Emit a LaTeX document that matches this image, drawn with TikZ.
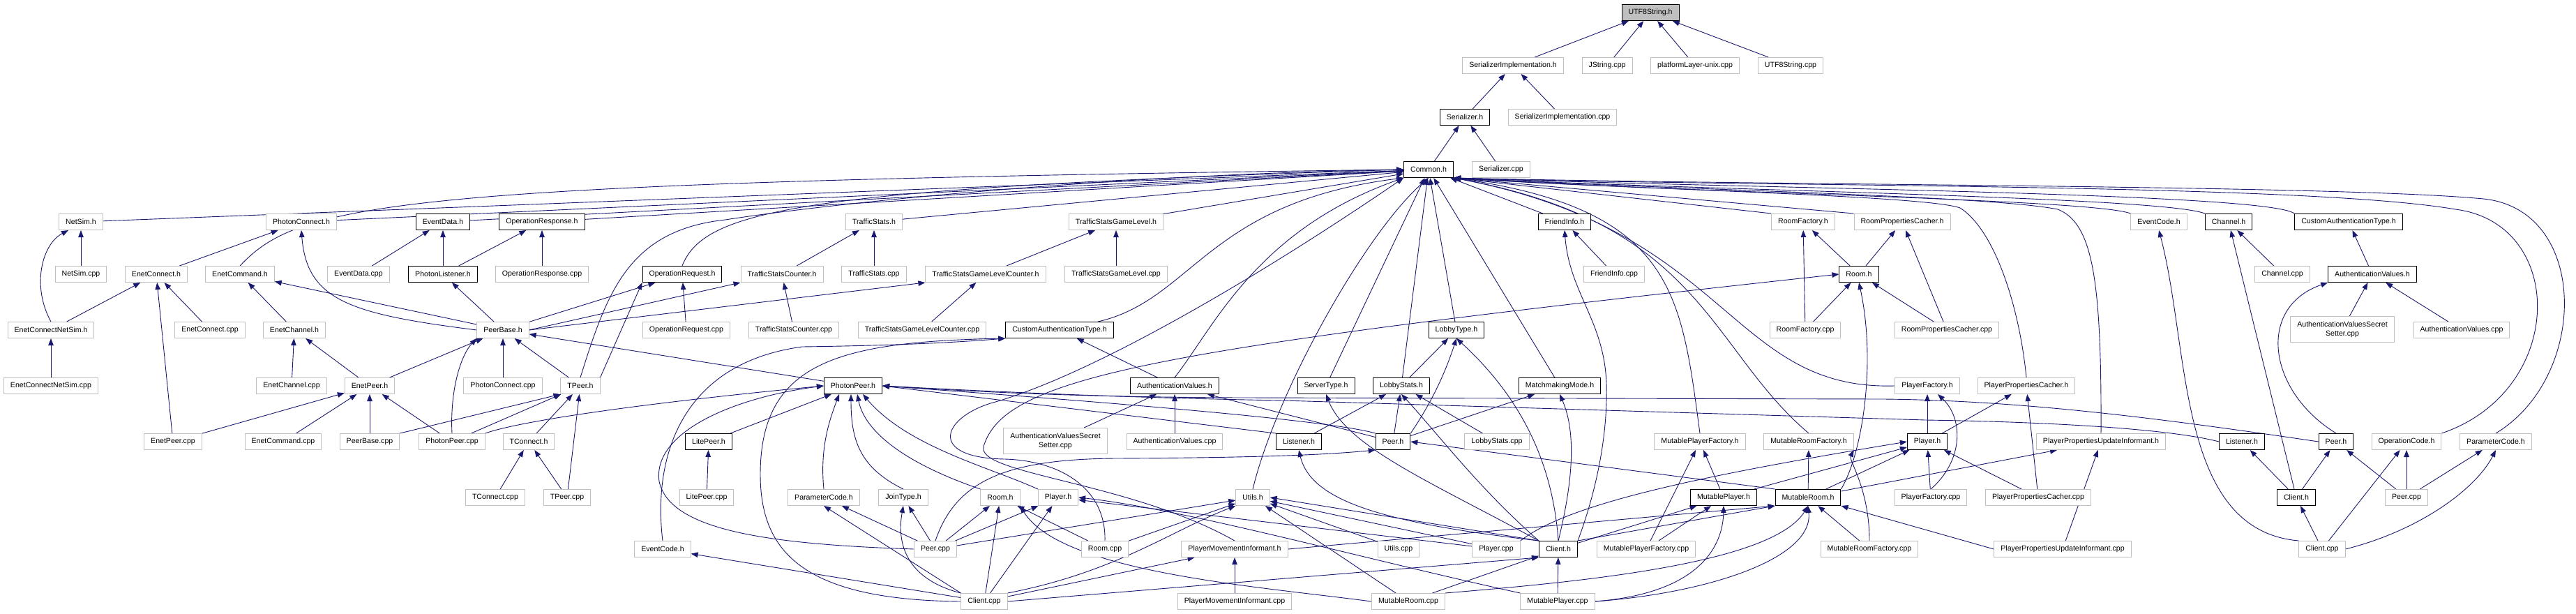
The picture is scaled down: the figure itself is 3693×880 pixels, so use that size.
\documentclass[tikz,border=0pt]{standalone}
\usepackage{fontspec}
\setmainfont{Liberation Sans}
\usetikzlibrary{arrows.meta}
\definecolor{edgeblue}{HTML}{191970}
\definecolor{boxgray}{HTML}{BFBFBF}
\newcommand{\lbl}{\fontsize{10.6}{13}\selectfont}
\pgfdeclarelayer{edges}
\pgfsetlayers{edges,main}

\begin{document}
\begin{tikzpicture}[x=1pt,y=-1pt,>={Triangle[length=10pt,width=7.5pt]},
  fl/.style={draw=boxgray,line width=1pt,fill=white,minimum height=23pt,inner xsep=9.5pt,inner ysep=0pt,font=\lbl},
  dc/.style={fl,draw=black},
  two/.style={fl,align=center,minimum height=37pt},
  dep/.style={->,draw=edgeblue,line width=0.9pt}]
\useasboundingbox (0,0) rectangle (3693,880);

% rows 0-3
\node[dc,fill=boxgray] (utf8h) at (2366,18) {UTF8String.h};
\node[fl] (serimplh) at (2169,94) {SerializerImplementation.h};
\node[fl] (jstrcpp) at (2304,94) {JString.cpp};
\node[fl] (platcpp) at (2430,94) {platformLayer-unix.cpp};
\node[fl] (utf8cpp) at (2567,94) {UTF8String.cpp};
\node[dc] (serh) at (2100,168) {Serializer.h};
\node[fl] (serimplcpp) at (2240,168) {SerializerImplementation.cpp};
\node[dc] (commonh) at (2048,243) {Common.h};
\node[fl] (sercpp) at (2152,243) {Serializer.cpp};
% row 4
\node[fl] (netsimh) at (116,318) {NetSim.h};
\node[fl] (pconnh) at (432,318) {PhotonConnect.h};
\node[dc] (evdatah) at (635,318) {EventData.h};
\node[dc] (opresph) at (777,318) {OperationResponse.h};
\node[fl] (tsh) at (1253,318) {TrafficStats.h};
\node[fl] (tsglh) at (1600,318) {TrafficStatsGameLevel.h};
\node[dc] (friendh) at (2243,318) {FriendInfo.h};
\node[fl] (roomfh) at (2585,318) {RoomFactory.h};
\node[fl] (roompch) at (2727,318) {RoomPropertiesCacher.h};
\node[fl] (evcodeh) at (3095,318) {EventCode.h};
\node[dc] (channelh) at (3195,318) {Channel.h};
\node[dc] (cauthh) at (3367,318) {CustomAuthenticationType.h};
% row 5
\node[fl] (netsimcpp) at (116,393) {NetSim.cpp};
\node[fl] (econnh) at (224,393) {EnetConnect.h};
\node[fl] (ecmdh) at (344,393) {EnetCommand.h};
\node[fl] (evdatacpp) at (514,393) {EventData.cpp};
\node[dc] (plistenh) at (635,393) {PhotonListener.h};
\node[fl] (oprespcpp) at (777,393) {OperationResponse.cpp};
\node[dc] (opreqh) at (978,393) {OperationRequest.h};
\node[fl] (tsch) at (1121,393) {TrafficStatsCounter.h};
\node[fl] (tscpp) at (1253,393) {TrafficStats.cpp};
\node[fl] (tsglch) at (1413,393) {TrafficStatsGameLevelCounter.h};
\node[fl] (tsglcpp) at (1600,393) {TrafficStatsGameLevel.cpp};
\node[fl] (friendcpp) at (2314,393) {FriendInfo.cpp};
\node[dc] (roomah) at (2665,393) {Room.h};
\node[fl] (channelcpp) at (3272,393) {Channel.cpp};
\node[dc] (authvbh) at (3401,393) {AuthenticationValues.h};
% row 6
\node[fl] (ecnsh) at (73,473) {EnetConnectNetSim.h};
\node[fl] (econncpp) at (301,473) {EnetConnect.cpp};
\node[fl] (echanh) at (422,473) {EnetChannel.h};
\node[fl] (peerbaseh) at (721,473) {PeerBase.h};
\node[fl] (opreqcpp) at (984,473) {OperationRequest.cpp};
\node[fl] (tsccpp) at (1138,473) {TrafficStatsCounter.cpp};
\node[fl] (tsglccpp) at (1322,473) {TrafficStatsGameLevelCounter.cpp};
\node[dc] (cautah) at (1519,473) {CustomAuthenticationType.h};
\node[dc] (lobbytypeh) at (2088,473) {LobbyType.h};
\node[fl] (roomfcpp) at (2588,473) {RoomFactory.cpp};
\node[fl] (roompccpp) at (2791,473) {RoomPropertiesCacher.cpp};
\node[two] (avsscppb) at (3358,472) {AuthenticationValuesSecret\\Setter.cpp};
\node[fl] (authvcppb) at (3529,473) {AuthenticationValues.cpp};
% row 7
\node[fl] (ecnscpp) at (73,553) {EnetConnectNetSim.cpp};
\node[fl] (echancpp) at (418,553) {EnetChannel.cpp};
\node[fl] (epeerh) at (530,553) {EnetPeer.h};
\node[fl] (pconncpp) at (721,553) {PhotonConnect.cpp};
\node[fl] (tpeerh) at (832,553) {TPeer.h};
\node[dc] (ppeerh) at (1223,553) {PhotonPeer.h};
\node[dc] (authvah) at (1684,553) {AuthenticationValues.h};
\node[dc] (servtypeh) at (1901,553) {ServerType.h};
\node[dc] (lobbystatsh) at (2009,553) {LobbyStats.h};
\node[dc] (mmodeh) at (2236,553) {MatchmakingMode.h};
\node[fl] (playerfh) at (2763,553) {PlayerFactory.h};
\node[fl] (playerpch) at (2905,553) {PlayerPropertiesCacher.h};
% row 8
\node[fl] (epeercpp) at (248,633) {EnetPeer.cpp};
\node[fl] (ecmdcpp) at (406,633) {EnetCommand.cpp};
\node[fl] (peerbasecpp) at (530,633) {PeerBase.cpp};
\node[fl] (ppeercpp) at (648,633) {PhotonPeer.cpp};
\node[fl] (tconnh) at (758,633) {TConnect.h};
\node[dc] (litepeerh) at (1016,633) {LitePeer.h};
\node[two] (avsscppa) at (1513,632) {AuthenticationValuesSecret\\Setter.cpp};
\node[fl] (authvcppa) at (1684,633) {AuthenticationValues.cpp};
\node[dc] (listenerah) at (1862,633) {Listener.h};
\node[dc] (peerah) at (1997,633) {Peer.h};
\node[fl] (lobbystatscpp) at (2146,633) {LobbyStats.cpp};
\node[fl] (mplayerfh) at (2437,633) {MutablePlayerFactory.h};
\node[fl] (mroomfh) at (2593,633) {MutableRoomFactory.h};
\node[dc] (playerah) at (2763,633) {Player.h};
\node[fl] (ppuih) at (3012,633) {PlayerPropertiesUpdateInformant.h};
\node[dc] (listenerbh) at (3214,633) {Listener.h};
\node[dc] (peerbh) at (3349,633) {Peer.h};
\node[fl] (opcodeh) at (3450,633) {OperationCode.h};
\node[fl] (paramcodebh) at (3578,633) {ParameterCode.h};
% row 9
\node[fl] (tconncpp) at (710,713) {TConnect.cpp};
\node[fl] (tpeercpp) at (813,713) {TPeer.cpp};
\node[fl] (litepeercpp) at (1013,713) {LitePeer.cpp};
\node[fl] (paramcodeah) at (1181,713) {ParameterCode.h};
\node[fl] (jointypeh) at (1295,713) {JoinType.h};
\node[fl] (roombh) at (1434,713) {Room.h};
\node[fl] (playerbh) at (1517,713) {Player.h};
\node[fl] (utilsh) at (1796,713) {Utils.h};
\node[dc] (mplayerh) at (2471,713) {MutablePlayer.h};
\node[dc] (mroomh) at (2592,713) {MutableRoom.h};
\node[fl] (playerfcpp) at (2768,713) {PlayerFactory.cpp};
\node[fl] (playerpccpp) at (2922,713) {PlayerPropertiesCacher.cpp};
\node[dc] (clientbh) at (3292,713) {Client.h};
\node[fl] (peerbcpp) at (3450,713) {Peer.cpp};
% row 10
\node[fl] (evcodebh) at (950,787) {EventCode.h};
\node[fl] (peeracpp) at (1341,787) {Peer.cpp};
\node[fl] (roomcpp) at (1584,787) {Room.cpp};
\node[fl] (pmih) at (1770,787) {PlayerMovementInformant.h};
\node[fl] (utilscpp) at (2005,787) {Utils.cpp};
\node[fl] (playercpp) at (2145,787) {Player.cpp};
\node[dc] (clientah) at (2234,787) {Client.h};
\node[fl] (mplayerfcpp) at (2360,787) {MutablePlayerFactory.cpp};
\node[fl] (mroomfcpp) at (2680,787) {MutableRoomFactory.cpp};
\node[fl] (ppuicpp) at (2957,787) {PlayerPropertiesUpdateInformant.cpp};
\node[fl] (clientbcpp) at (3329,787) {Client.cpp};
% row 11
\node[fl] (clientacpp) at (1411,862) {Client.cpp};
\node[fl] (pmicpp) at (1770,862) {PlayerMovementInformant.cpp};
\node[fl] (mroomcpp) at (2019,862) {MutableRoom.cpp};
\node[fl] (mplayercpp) at (2233,862) {MutablePlayer.cpp};

\begin{pgfonlayer}{edges}
% top of the tree
\draw[dep] (serimplh) -- (utf8h);
\draw[dep] (jstrcpp) -- (utf8h);
\draw[dep] (platcpp) -- (utf8h);
\draw[dep] (utf8cpp) -- (utf8h);
\draw[dep] (serh) -- (serimplh);
\draw[dep] (serimplcpp) -- (serimplh);
\draw[dep] (commonh) -- (serh);
\draw[dep] (sercpp) -- (serh);
% into Common.h from the left
\draw[dep] (netsimh) -- (commonh);
\draw[dep] (pconnh) -- (commonh);
\draw[dep] (evdatah) -- (commonh);
\draw[dep] (opresph) -- (commonh);
\draw[dep] (tsh) -- (commonh);
\draw[dep] (tsglh) -- (commonh);
\draw[dep] (ecmdh.north) .. controls (430,290) and (560,262) .. (commonh.west);
\draw[dep] (opreqh.north) .. controls (1010,300) and (1150,270) .. (commonh.west);
\draw[dep] (tpeerh.north) .. controls (870,420) and (900,330) .. (1040,315) .. controls (1200,290) and (1600,250) .. (commonh.west);
\draw[dep] ([xshift=55pt]cautah.north) .. controls (1710,430) and (1730,290) .. (commonh.south west);
\draw[dep] (authvah.north) .. controls (1740,470) and (1800,330) .. (commonh.south west);
\draw[dep] (roomcpp.north) .. controls (1586,700) and (1520,660) .. (1440,658) .. controls (1330,656) and (1350,600) .. (1420,578) .. controls (1560,540) and (1800,400) .. (commonh.south west);
\draw[dep] (utilsh.north) .. controls (1830,560) and (1960,330) .. (commonh.south);
\draw[dep] (servtypeh) -- (commonh);
\draw[dep] (lobbystatsh) -- (commonh);
\draw[dep] (lobbytypeh) -- (commonh);
\draw[dep] (mmodeh) -- (commonh);
\draw[dep] (friendh) -- (commonh);
% into Common.h from the right, under Serializer.cpp
\draw[dep] (mplayerfh.north) .. controls (2410,420) and (2400,300) .. (commonh.south east);
\draw[dep] (mroomfh.north) .. controls (2450,500) and (2440,320) .. (commonh.south east);
\draw[dep] (playerfh.west) .. controls (2480,560) and (2480,330) .. (commonh.south east);
\draw[dep] (roomfh.north west) -- (commonh.south east);
\draw[dep] (roompch.north west) -- (commonh.south east);
\draw[dep] (playerpch.north) .. controls (2895,440) and (2860,330) .. (2810,298) .. controls (2760,280) and (2350,272) .. (commonh.south east);
\draw[dep] (ppuih.north) .. controls (3013,400) and (3000,320) .. (2950,300) .. controls (2850,280) and (2400,272) .. (commonh.south east);
\draw[dep] (evcodeh.north west) .. controls (3000,285) and (2400,276) .. (commonh.south east);
\draw[dep] (channelh.north west) .. controls (3100,282) and (2450,273) .. (commonh.south east);
\draw[dep] (cauthh.north west) .. controls (3250,276) and (2500,270) .. (commonh.south east);
\draw[dep] (opcodeh.north east) .. controls (3680,560) and (3680,320) .. (3520,300) .. controls (3300,262) and (2500,268) .. (commonh.south east);
\draw[dep] (paramcodebh.north) .. controls (3712,540) and (3712,300) .. (3560,285) .. controls (3350,265) and (2550,266) .. (commonh.south east);
% Enet and PeerBase block
\draw[dep] (netsimcpp) -- (netsimh);
\draw[dep] (ecnsh.north) .. controls (45,410) and (60,350) .. ([xshift=-18pt]netsimh.south);
\draw[dep] (ecnscpp) -- (ecnsh);
\draw[dep] (ecnsh) -- (econnh);
\draw[dep] (econncpp) -- (econnh);
\draw[dep] (epeercpp) -- (econnh);
\draw[dep] (econnh) -- (pconnh);
\draw[dep] (echanh) -- (ecmdh);
\draw[dep] (echancpp) -- (echanh);
\draw[dep] (epeerh) -- (echanh);
\draw[dep] (epeerh) -- (peerbaseh);
\draw[dep] (epeercpp) -- (epeerh);
\draw[dep] (ecmdcpp) -- (epeerh);
\draw[dep] (peerbasecpp) -- (epeerh);
\draw[dep] (ppeercpp) -- (epeerh);
\draw[dep] (peerbasecpp.north east) -- (tpeerh.south west);
\draw[dep] (ppeercpp) -- (tpeerh);
\draw[dep] (tconnh) -- (tpeerh);
\draw[dep] (tpeercpp) -- (tpeerh);
\draw[dep] (tpeercpp) -- (tconnh);
\draw[dep] (tconncpp) -- (tconnh);
\draw[dep] (tpeerh) -- (peerbaseh);
\draw[dep] (tpeerh.north east) -- (opreqh.south west);
\draw[dep] (pconncpp) -- (peerbaseh);
\draw[dep] (ppeercpp.north) .. controls (645,560) and (660,510) .. (peerbaseh.south west);
\draw[dep] (peerbaseh.west) .. controls (500,450) and (440,430) .. (pconnh.south);
\draw[dep] (peerbaseh) -- (ecmdh);
\draw[dep] (peerbaseh) -- (plistenh);
\draw[dep] (peerbaseh) -- (opreqh);
\draw[dep] (peerbaseh.east) -- (tsch.south west);
\draw[dep] (peerbaseh.east) -- (tsglch.south west);
\draw[dep] (ppeerh) -- (peerbaseh);
\draw[dep] (evdatacpp) -- (evdatah);
\draw[dep] (plistenh) -- (evdatah);
\draw[dep] (plistenh) -- (opresph);
\draw[dep] (oprespcpp) -- (opresph);
\draw[dep] (opreqcpp) -- (opreqh);
\draw[dep] (tsch) -- (tsh);
\draw[dep] (tscpp) -- (tsh);
\draw[dep] (tsccpp) -- (tsch);
\draw[dep] (tsglch) -- (tsglh);
\draw[dep] (tsglcpp) -- (tsglh);
\draw[dep] (tsglccpp) -- (tsglch);
% authentication, left copy
\draw[dep] (authvah) -- (cautah);
\draw[dep] (avsscppa) -- (authvah);
\draw[dep] (authvcppa) -- (authvah);
\draw[dep] (evcodebh.north) .. controls (935,650) and (980,520) .. (1150,497) .. controls (1300,495) and (1380,490) .. (cautah.south west);
\draw[dep] (clientacpp.west) .. controls (1150,860) and (1090,790) .. (1090,680) .. controls (1090,520) and (1200,490) .. (cautah.south west);
% PhotonPeer.h
\draw[dep] (litepeerh) -- (ppeerh);
\draw[dep] (litepeercpp) -- (litepeerh);
\draw[dep] (ppeercpp.north east) .. controls (740,605) and (900,580) .. (ppeerh.west);
\draw[dep] (paramcodeah.north) .. controls (1175,640) and (1190,600) .. ([xshift=-20pt]ppeerh.south);
\draw[dep] (jointypeh.north) .. controls (1232,670) and (1220,630) .. ([xshift=-3pt]ppeerh.south);
\draw[dep] (roombh.north west) .. controls (1300,665) and (1240,620) .. ([xshift=6pt]ppeerh.south);
\draw[dep] (playerbh.north west) .. controls (1420,670) and (1300,640) .. ([xshift=14pt]ppeerh.south);
\draw[dep] (peeracpp.west) .. controls (1100,780) and (960,760) .. (945,690) .. controls (935,620) and (1050,570) .. (ppeerh.west);
\draw[dep] (peerah.north west) .. controls (1900,600) and (1500,570) .. (ppeerh.east);
\draw[dep] (listenerah.north west) -- (ppeerh.east);
\draw[dep] (peerbh.west) .. controls (3100,600) and (2900,574) .. (2700,572) -- (1780,570) .. controls (1500,569) and (1350,558) .. (ppeerh.east);
\draw[dep] (listenerbh.west) .. controls (3100,612) and (2900,604) .. (2760,602) -- (1840,574) .. controls (1600,570) and (1400,560) .. (ppeerh.east);
% Peer.h, Listener.h and the lobby headers
\draw[dep] (peerah) -- (authvah);
\draw[dep] (peerah) -- (lobbystatsh);
\draw[dep] (peerah.north east) .. controls (2050,580) and (2070,540) .. (lobbytypeh.south);
\draw[dep] (peerah) -- (mmodeh);
\draw[dep] (listenerah) -- (lobbystatsh);
\draw[dep] (lobbystatscpp) -- (lobbystatsh);
\draw[dep] (lobbystatsh) -- (lobbytypeh);
\draw[dep] (friendcpp) -- (friendh);
\draw[dep] (peeracpp.north) .. controls (1370,690) and (1440,658) .. (1600,657) .. controls (1800,656) and (1900,652) .. (peerah.south west);
\draw[dep] (mroomh.north west) -- (peerah.east);
% Client.h
\draw[dep] (clientah.north west) .. controls (2050,690) and (1930,640) .. (servtypeh.south);
\draw[dep] (clientah.north west) .. controls (2120,700) and (2060,620) .. (lobbystatsh.south);
\draw[dep] (clientah.north) .. controls (2225,650) and (2170,560) .. (lobbytypeh.south);
\draw[dep] (clientah.north) .. controls (2255,690) and (2260,620) .. (mmodeh.south);
\draw[dep] (clientah.north east) .. controls (2290,700) and (2305,620) .. (2303,550) .. controls (2300,460) and (2250,420) .. (friendh.south);
\draw[dep] (clientah.north west) .. controls (1990,750) and (1880,720) .. (listenerah.south);
\draw[dep] (clientah.north west) -- (utilsh.east);
\draw[dep] (clientah) -- (mplayerh);
\draw[dep] (clientah.north east) -- (mroomh.south west);
\draw[dep] (clientacpp.east) -- (clientah.south west);
\draw[dep] (mroomcpp) -- (clientah);
\draw[dep] (mplayercpp) -- (clientah);
% Utils.h
\draw[dep] (peeracpp) -- (utilsh);
\draw[dep] (roomcpp) -- (utilsh);
\draw[dep] (clientacpp.north east) .. controls (1600,820) and (1680,760) .. (utilsh.south west);
\draw[dep] (utilscpp) -- (utilsh);
\draw[dep] (playercpp) -- (utilsh);
\draw[dep] (mroomcpp) -- (utilsh);
% Room.h, Player.h, ParameterCode.h, JoinType.h
\draw[dep] (peeracpp) -- (paramcodeah);
\draw[dep] (peeracpp) -- (jointypeh);
\draw[dep] (peeracpp) -- (roombh);
\draw[dep] (peeracpp) -- (playerbh);
\draw[dep] (clientacpp.north west) -- (paramcodeah.south);
\draw[dep] (clientacpp.north west) .. controls (1300,830) and (1285,780) .. (jointypeh.south);
\draw[dep] (clientacpp) -- (roombh);
\draw[dep] (clientacpp) -- (playerbh);
\draw[dep] (clientacpp) -- (evcodebh);
\draw[dep] (roomcpp) -- (roombh);
\draw[dep] (mroomcpp.west) .. controls (1800,840) and (1520,820) .. (roombh.south east);
\draw[dep] (playercpp) -- (playerbh);
\draw[dep] (mplayercpp.north west) .. controls (1950,800) and (1700,730) .. (playerbh.east);
% PlayerMovementInformant
\draw[dep] (clientacpp) -- (pmih);
\draw[dep] (pmicpp) -- (pmih);
\draw[dep] (pmih.east) -- (mroomh.south west);
\draw[dep] (pmih.north) .. controls (1620,690) and (1400,680) .. (1410,640) .. controls (1440,540) and (1650,500) .. (roomah.west);
% rooms and players
\draw[dep] (roomfcpp) -- (roomfh);
\draw[dep] (roomfcpp) -- (roomah);
\draw[dep] (roomah) -- (roomfh);
\draw[dep] (roomah) -- (roompch);
\draw[dep] (roompccpp) -- (roomah);
\draw[dep] (roompccpp) -- (roompch);
\draw[dep] (mroomh.north east) .. controls (2670,650) and (2690,520) .. (roomah.south);
\draw[dep] (mroomh) -- (mroomfh);
\draw[dep] (mroomfcpp.north) .. controls (2680,700) and (2650,660) .. (mroomfh.south east);
\draw[dep] (mroomfcpp) -- (mroomh);
\draw[dep] (mroomh) -- (playerah);
\draw[dep] (mplayerh) -- (playerah);
\draw[dep] (mroomh) -- (ppuih);
\draw[dep] (ppuicpp) -- (ppuih);
\draw[dep] (ppuicpp.west) -- (mroomh.south east);
\draw[dep] (mplayerh) -- (mplayerfh);
\draw[dep] (mplayerfcpp) -- (mplayerfh);
\draw[dep] (mplayerfcpp) -- (mplayerh);
\draw[dep] (mroomcpp.north east) .. controls (2250,835) and (2540,810) .. (mroomh.south);
\draw[dep] (mplayercpp.east) .. controls (2450,850) and (2600,800) .. (mroomh.south);
\draw[dep] (mplayercpp.east) .. controls (2440,850) and (2470,780) .. (mplayerh.south);
\draw[dep] (playercpp.north east) .. controls (2250,720) and (2450,680) .. (playerah.west);
\draw[dep] (playerah) -- (playerfh);
\draw[dep] (playerah) -- (playerpch);
\draw[dep] (playerfcpp) -- (playerah);
\draw[dep] (playerfcpp.north) .. controls (2815,660) and (2815,600) .. ([xshift=15pt]playerfh.south);
\draw[dep] (playerpccpp) -- (playerpch);
\draw[dep] (playerpccpp) -- (playerah);
% right-hand client
\draw[dep] (channelcpp) -- (channelh);
\draw[dep] (clientbh) -- (channelh);
\draw[dep] (authvbh) -- (cauthh);
\draw[dep] (avsscppb) -- (authvbh);
\draw[dep] (authvcppb) -- (authvbh);
\draw[dep] (peerbh.north) .. controls (3250,560) and (3235,440) .. (authvbh.south west);
\draw[dep] (clientbh) -- (listenerbh);
\draw[dep] (clientbh) -- (peerbh);
\draw[dep] (clientbcpp) -- (clientbh);
\draw[dep] (clientbcpp.north west) .. controls (3120,760) and (3140,500) .. (evcodeh.south);
\draw[dep] (clientbcpp) -- (opcodeh);
\draw[dep] (clientbcpp.east) .. controls (3470,760) and (3550,700) .. (paramcodebh.south);
\draw[dep] (peerbcpp) -- (peerbh);
\draw[dep] (peerbcpp) -- (opcodeh);
\draw[dep] (peerbcpp) -- (paramcodebh);
\end{pgfonlayer}
\end{tikzpicture}
\end{document}
